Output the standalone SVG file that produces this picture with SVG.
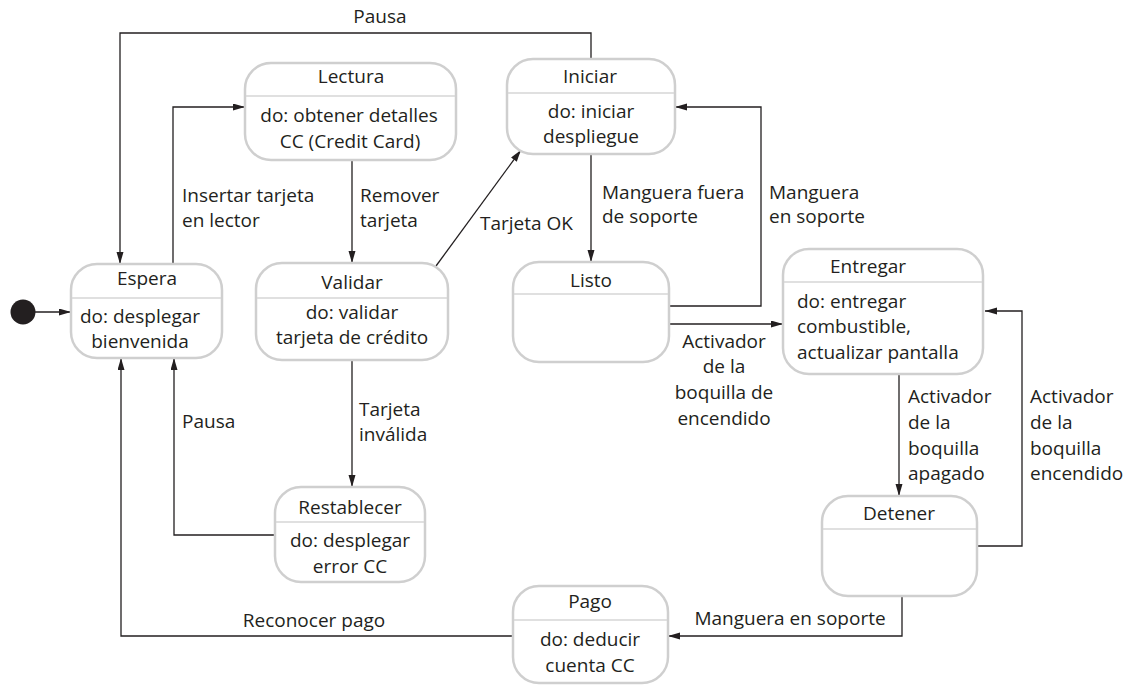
<svg xmlns="http://www.w3.org/2000/svg" width="1142" height="685" viewBox="0 0 1142 685">
<style>
text{font-family:"Open Sans","Liberation Sans",sans-serif;font-size:19px;fill:#231f20}
.c{text-anchor:middle}
.box{fill:#fff;stroke:#cfcfcf;stroke-width:2.5}
.div{stroke:#d6d6d6;stroke-width:1.5}
.edge{fill:none;stroke:#231f20;stroke-width:1.3}
</style>
<defs>
<marker id="ah" markerUnits="userSpaceOnUse" markerWidth="13" markerHeight="8" refX="12" refY="3.5" orient="auto">
<path d="M0,0 L12,3.5 L0,7 z" fill="#231f20"/>
</marker>
</defs>
<rect width="1142" height="685" fill="#fff"/>
<g id="connectors">
<circle cx="23" cy="312" r="12.5" fill="#231f20"/>
<path class="edge" d="M35,312 H71" marker-end="url(#ah)"/>
<path class="edge" d="M591,59 V33 H120 V264" marker-end="url(#ah)"/>
<path class="edge" d="M173,264 V107 H245" marker-end="url(#ah)"/>
<path class="edge" d="M352,160 V263" marker-end="url(#ah)"/>
<path class="edge" d="M436,266 L521,150" marker-end="url(#ah)"/>
<path class="edge" d="M591,154 V262" marker-end="url(#ah)"/>
<path class="edge" d="M669,306 H761 V107 H675" marker-end="url(#ah)"/>
<path class="edge" d="M669,324 H783" marker-end="url(#ah)"/>
<path class="edge" d="M899,374 V496" marker-end="url(#ah)"/>
<path class="edge" d="M977,546 H1022 V311 H985" marker-end="url(#ah)"/>
<path class="edge" d="M902,596 V636 H668" marker-end="url(#ah)"/>
<path class="edge" d="M513,636 H121 V358" marker-end="url(#ah)"/>
<path class="edge" d="M352,360 V487" marker-end="url(#ah)"/>
<path class="edge" d="M275,535 H174 V358" marker-end="url(#ah)"/>
<text x="380" y="23" class="c">Pausa</text>
<text x="182" y="202">Insertar tarjeta</text>
<text x="182" y="227">en lector</text>
<text x="360" y="202">Remover</text>
<text x="360" y="227">tarjeta</text>
<text x="480" y="230">Tarjeta OK</text>
<text x="602" y="199">Manguera fuera</text>
<text x="602" y="223">de soporte</text>
<text x="769" y="199">Manguera</text>
<text x="769" y="223">en soporte</text>
<text x="724" y="348" class="c">Activador</text>
<text x="724" y="373" class="c">de la</text>
<text x="724" y="399" class="c">boquilla de</text>
<text x="724" y="425" class="c">encendido</text>
<text x="908" y="403">Activador</text>
<text x="908" y="429">de la</text>
<text x="908" y="455">boquilla</text>
<text x="908" y="480">apagado</text>
<text x="1030" y="403">Activador</text>
<text x="1030" y="429">de la</text>
<text x="1030" y="455">boquilla</text>
<text x="1030" y="480">encendido</text>
<text x="182" y="428">Pausa</text>
<text x="359" y="416">Tarjeta</text>
<text x="359" y="441">inválida</text>
<text x="314" y="627" class="c">Reconocer pago</text>
<text x="790" y="625" class="c">Manguera en soporte</text>
</g>
<g id="espera">
<rect class="box" x="71" y="264" width="151" height="94" rx="26"/>
<line class="div" x1="72" y1="298" x2="221" y2="298"/>
<text x="147" y="285" class="c">Espera</text>
<text x="140" y="323" class="c">do: desplegar</text>
<text x="140" y="348" class="c">bienvenida</text>
</g>
<g id="lectura">
<rect class="box" x="245" y="63" width="211" height="97" rx="26"/>
<line class="div" x1="246" y1="96" x2="455" y2="96"/>
<text x="351" y="83" class="c">Lectura</text>
<text x="349" y="122" class="c">do: obtener detalles</text>
<text x="350" y="148" class="c">CC (Credit Card)</text>
</g>
<g id="validar">
<rect class="box" x="256" y="263" width="192" height="97" rx="26"/>
<line class="div" x1="257" y1="298" x2="447" y2="298"/>
<text x="352" y="289" class="c">Validar</text>
<text x="352" y="319" class="c">do: validar</text>
<text x="352" y="344" class="c">tarjeta de crédito</text>
</g>
<g id="iniciar">
<rect class="box" x="507" y="59" width="168" height="95" rx="26"/>
<line class="div" x1="508" y1="93" x2="674" y2="93"/>
<text x="590" y="83" class="c">Iniciar</text>
<text x="591" y="118" class="c">do: iniciar</text>
<text x="591" y="143" class="c">despliegue</text>
</g>
<g id="listo">
<rect class="box" x="513" y="262" width="156" height="100" rx="26"/>
<line class="div" x1="514" y1="294" x2="668" y2="294"/>
<text x="591" y="287" class="c">Listo</text>
</g>
<g id="entregar">
<rect class="box" x="783" y="249" width="200" height="125" rx="26"/>
<line class="div" x1="784" y1="282" x2="982" y2="282"/>
<text x="868" y="273" class="c">Entregar</text>
<text x="797" y="308">do: entregar</text>
<text x="797" y="333">combustible,</text>
<text x="797" y="359">actualizar pantalla</text>
</g>
<g id="detener">
<rect class="box" x="822" y="496" width="155" height="100" rx="26"/>
<line class="div" x1="823" y1="529" x2="976" y2="529"/>
<text x="899" y="520" class="c">Detener</text>
</g>
<g id="restablecer">
<rect class="box" x="275" y="487" width="150" height="95" rx="26"/>
<line class="div" x1="276" y1="522" x2="424" y2="522"/>
<text x="350" y="514" class="c">Restablecer</text>
<text x="350" y="547" class="c">do: desplegar</text>
<text x="350" y="573" class="c">error CC</text>
</g>
<g id="pago">
<rect class="box" x="513" y="586" width="155" height="97" rx="26"/>
<line class="div" x1="514" y1="620" x2="667" y2="620"/>
<text x="590" y="608" class="c">Pago</text>
<text x="590" y="646" class="c">do: deducir</text>
<text x="590" y="672" class="c">cuenta CC</text>
</g>
</svg>
